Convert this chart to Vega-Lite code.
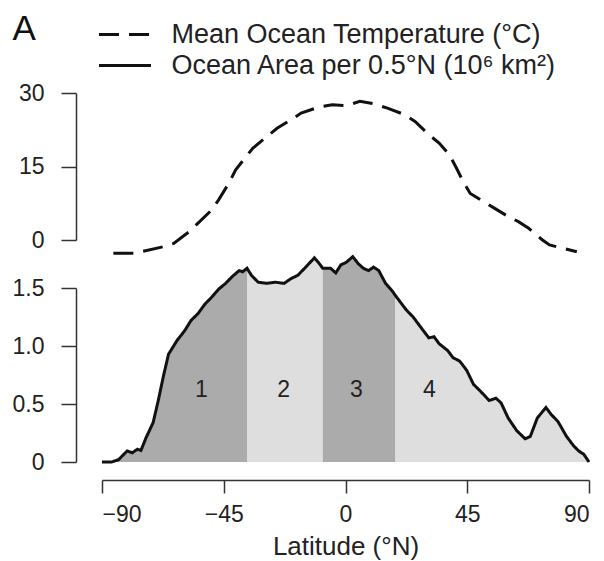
{
  "$schema": "https://vega.github.io/schema/vega-lite/v6.json",
  "padding": {"left": 12, "top": 21, "right": 5, "bottom": 5},
  "background": "white",
  "config": {
    "view": {"stroke": null},
    "font": "Liberation Sans",
    "axis": {"domainColor": "#333", "tickColor": "#333", "labelColor": "#222", "titleColor": "#222", "domainWidth": 1.5, "tickWidth": 1.5, "grid": false, "labelFont": "Liberation Sans", "titleFont": "Liberation Sans"},
    "legend": {"labelFont": "Liberation Sans", "titleFont": "Liberation Sans"}
  },
  "datasets": {
    "temp": [
      {"lat": -85.8, "temp": -2.7}, {"lat": -78.2, "temp": -2.7}, {"lat": -74.3, "temp": -2.25},
      {"lat": -67.3, "temp": -1.36}, {"lat": -63.5, "temp": -0.68}, {"lat": -57.8, "temp": 1.7},
      {"lat": -54.6, "temp": 3.4}, {"lat": -49.5, "temp": 6.1}, {"lat": -46.9, "temp": 8.2},
      {"lat": -43.1, "temp": 11.6}, {"lat": -40.6, "temp": 14.3}, {"lat": -36.8, "temp": 17.0},
      {"lat": -34.2, "temp": 18.75}, {"lat": -29.1, "temp": 21.1}, {"lat": -25.3, "temp": 22.8},
      {"lat": -20.2, "temp": 24.5}, {"lat": -16.4, "temp": 25.9}, {"lat": -10, "temp": 27.1},
      {"lat": -4.9, "temp": 27.6}, {"lat": 0.2, "temp": 27.4}, {"lat": 5.3, "temp": 28.3},
      {"lat": 10.4, "temp": 27.8}, {"lat": 15.5, "temp": 26.9}, {"lat": 21.8, "temp": 25.6},
      {"lat": 25.7, "temp": 24.2}, {"lat": 30.8, "temp": 21.5}, {"lat": 34.6, "temp": 19.8},
      {"lat": 38.4, "temp": 17.4}, {"lat": 41, "temp": 14.7}, {"lat": 43.5, "temp": 11.9},
      {"lat": 46.1, "temp": 9.5}, {"lat": 49.9, "temp": 8.2}, {"lat": 55, "temp": 6.5},
      {"lat": 60.1, "temp": 4.8}, {"lat": 63.9, "temp": 3.75}, {"lat": 67.7, "temp": 2.4},
      {"lat": 72.8, "temp": 0}, {"lat": 75.4, "temp": -1.0}, {"lat": 80.4, "temp": -1.7},
      {"lat": 85.5, "temp": -2.4}
    ],
    "area": [
      {"lat": -90, "area": 0, "zone": "1"}, {"lat": -86.4, "area": 0, "zone": "1"},
      {"lat": -83.9, "area": 0.02, "zone": "1"}, {"lat": -80.7, "area": 0.095, "zone": "1"},
      {"lat": -78.8, "area": 0.08, "zone": "1"}, {"lat": -76.9, "area": 0.11, "zone": "1"},
      {"lat": -75.6, "area": 0.10, "zone": "1"}, {"lat": -73.7, "area": 0.21, "zone": "1"},
      {"lat": -71.1, "area": 0.34, "zone": "1"}, {"lat": -69.2, "area": 0.53, "zone": "1"},
      {"lat": -67.3, "area": 0.74, "zone": "1"}, {"lat": -65.4, "area": 0.93, "zone": "1"},
      {"lat": -62.2, "area": 1.05, "zone": "1"}, {"lat": -59.5, "area": 1.13, "zone": "1"},
      {"lat": -57.1, "area": 1.22, "zone": "1"}, {"lat": -54.5, "area": 1.28, "zone": "1"},
      {"lat": -52, "area": 1.36, "zone": "1"}, {"lat": -49.5, "area": 1.42, "zone": "1"},
      {"lat": -46.9, "area": 1.49, "zone": "1"}, {"lat": -44.3, "area": 1.54, "zone": "1"},
      {"lat": -41.8, "area": 1.60, "zone": "1"}, {"lat": -39.3, "area": 1.65, "zone": "1"},
      {"lat": -38, "area": 1.64, "zone": "1"}, {"lat": -36.4, "area": 1.67, "zone": "1"},
      {"lat": -36.4, "area": 1.67, "zone": "2"}, {"lat": -34.8, "area": 1.61, "zone": "2"},
      {"lat": -32.3, "area": 1.55, "zone": "2"}, {"lat": -29.1, "area": 1.54, "zone": "2"},
      {"lat": -25.9, "area": 1.55, "zone": "2"}, {"lat": -22.7, "area": 1.54, "zone": "2"},
      {"lat": -20.2, "area": 1.58, "zone": "2"}, {"lat": -17.6, "area": 1.61, "zone": "2"},
      {"lat": -15.1, "area": 1.67, "zone": "2"}, {"lat": -11.5, "area": 1.76, "zone": "2"},
      {"lat": -10, "area": 1.72, "zone": "2"}, {"lat": -8.4, "area": 1.67, "zone": "2"},
      {"lat": -8.4, "area": 1.67, "zone": "3"}, {"lat": -5.5, "area": 1.67, "zone": "3"},
      {"lat": -3.6, "area": 1.63, "zone": "3"}, {"lat": -1.7, "area": 1.70, "zone": "3"},
      {"lat": 0.2, "area": 1.72, "zone": "3"}, {"lat": 2.7, "area": 1.77, "zone": "3"},
      {"lat": 4.7, "area": 1.71, "zone": "3"}, {"lat": 6.6, "area": 1.67, "zone": "3"},
      {"lat": 8.5, "area": 1.65, "zone": "3"}, {"lat": 10.4, "area": 1.68, "zone": "3"},
      {"lat": 12.3, "area": 1.65, "zone": "3"}, {"lat": 14.8, "area": 1.54, "zone": "3"},
      {"lat": 17.4, "area": 1.47, "zone": "3"}, {"lat": 18.3, "area": 1.44, "zone": "3"},
      {"lat": 18.3, "area": 1.44, "zone": "4"}, {"lat": 19.9, "area": 1.39, "zone": "4"},
      {"lat": 22.5, "area": 1.31, "zone": "4"}, {"lat": 25, "area": 1.25, "zone": "4"},
      {"lat": 28.2, "area": 1.15, "zone": "4"}, {"lat": 30.8, "area": 1.07, "zone": "4"},
      {"lat": 32.7, "area": 1.08, "zone": "4"}, {"lat": 34.6, "area": 1.02, "zone": "4"},
      {"lat": 37.8, "area": 0.96, "zone": "4"}, {"lat": 39.7, "area": 0.90, "zone": "4"},
      {"lat": 42.2, "area": 0.87, "zone": "4"}, {"lat": 44.8, "area": 0.79, "zone": "4"},
      {"lat": 47.3, "area": 0.67, "zone": "4"}, {"lat": 49.9, "area": 0.61, "zone": "4"},
      {"lat": 53.1, "area": 0.53, "zone": "4"}, {"lat": 55.6, "area": 0.55, "zone": "4"},
      {"lat": 57.5, "area": 0.51, "zone": "4"}, {"lat": 60.1, "area": 0.38, "zone": "4"},
      {"lat": 63.3, "area": 0.27, "zone": "4"}, {"lat": 66.4, "area": 0.20, "zone": "4"},
      {"lat": 68.3, "area": 0.22, "zone": "4"}, {"lat": 70.9, "area": 0.38, "zone": "4"},
      {"lat": 74.1, "area": 0.47, "zone": "4"}, {"lat": 76, "area": 0.41, "zone": "4"},
      {"lat": 78.5, "area": 0.35, "zone": "4"}, {"lat": 81.7, "area": 0.22, "zone": "4"},
      {"lat": 84.3, "area": 0.14, "zone": "4"}, {"lat": 86.2, "area": 0.095, "zone": "4"},
      {"lat": 88.1, "area": 0.066, "zone": "4"}, {"lat": 90, "area": 0, "zone": "4"}
    ],
    "labels": [
      {"lat": -53.3, "v": 0.62, "zone": "1"}, {"lat": -22.9, "v": 0.62, "zone": "2"},
      {"lat": 4.0, "v": 0.62, "zone": "3"}, {"lat": 31.0, "v": 0.62, "zone": "4"}
    ]
  },
  "spacing": 48,
  "bounds": "flush",
  "resolve": {"scale": {"strokeDash": "shared"}, "legend": {"strokeDash": "shared"}},
  "vconcat": [
    {
      "width": 487,
      "height": 147,
      "data": {"name": "temp"},
      "mark": {"type": "line", "strokeWidth": 3, "color": "#111"},
      "encoding": {
        "x": {"field": "lat", "type": "quantitative", "scale": {"domain": [-90, 90], "nice": false, "zero": false}, "axis": null},
        "y": {"field": "temp", "type": "quantitative", "scale": {"domain": [0, 30], "nice": false, "zero": false},
              "axis": {"values": [0, 15, 30], "offset": 26, "tickSize": 15, "labelPadding": 17, "labelFontSize": 23, "title": null}},
        "strokeDash": {
          "datum": "Mean Ocean Temperature (°C)", "type": "nominal",
          "scale": {"domain": ["Mean Ocean Temperature (°C)", "Ocean Area per 0.5°N (10⁶ km²)"], "range": [[20, 10], [1, 0]]},
          "legend": {
            "orient": "none", "legendX": -89.5, "legendY": -72,
            "title": "A", "titleOrient": "left", "titleAnchor": "start", "titleBaseline": "line-top", "titleLineHeight": 17,
            "titleFontSize": 35, "titleFontWeight": "normal", "titleColor": "#111", "titlePadding": 75,
            "symbolType": "M-4,0H4", "symbolSize": 169, "symbolStrokeWidth": 3, "symbolStrokeColor": "#111",
            "labelFontSize": 27, "labelOffset": 33, "labelColor": "#222", "rowPadding": 3, "labelLimit": 600
          }
        }
      }
    },
    {
      "width": 487,
      "height": 174,
      "data": {"name": "area"},
      "layer": [
        {
          "mark": {"type": "area", "opacity": 1},
          "encoding": {
            "x": {"field": "lat", "type": "quantitative", "scale": {"domain": [-90, 90], "nice": false, "zero": false},
                  "axis": {"values": [-90, -45, 0, 45, 90], "offset": 18, "tickSize": 13, "labelPadding": 10, "labelFontSize": 23, "title": "Latitude (°N)", "titleFontSize": 26, "titleFontWeight": "normal", "titlePadding": 7}},
            "y": {"field": "area", "type": "quantitative", "stack": null, "scale": {"domain": [0, 1.5], "nice": false, "zero": false},
                  "axis": {"values": [0, 0.5, 1, 1.5], "offset": 26, "tickSize": 15, "labelPadding": 17, "labelFontSize": 23, "title": null,
                           "labelExpr": "datum.value == 0 ? '0' : format(datum.value, '.1f')"}},
            "color": {"field": "zone", "type": "nominal", "scale": {"domain": ["1", "2", "3", "4"], "range": ["#ababab", "#dedede", "#ababab", "#dedede"]}, "legend": null}
          }
        },
        {
          "mark": {"type": "line", "strokeWidth": 3, "color": "#111"},
          "encoding": {
            "x": {"field": "lat", "type": "quantitative"},
            "y": {"field": "area", "type": "quantitative"},
            "strokeDash": {"datum": "Ocean Area per 0.5°N (10⁶ km²)", "type": "nominal"}
          }
        },
        {
          "data": {"name": "labels"},
          "mark": {"type": "text", "fontSize": 23, "color": "#222"},
          "encoding": {
            "x": {"field": "lat", "type": "quantitative"},
            "y": {"field": "v", "type": "quantitative"},
            "text": {"field": "zone", "type": "nominal"}
          }
        }
      ]
    }
  ]
}
